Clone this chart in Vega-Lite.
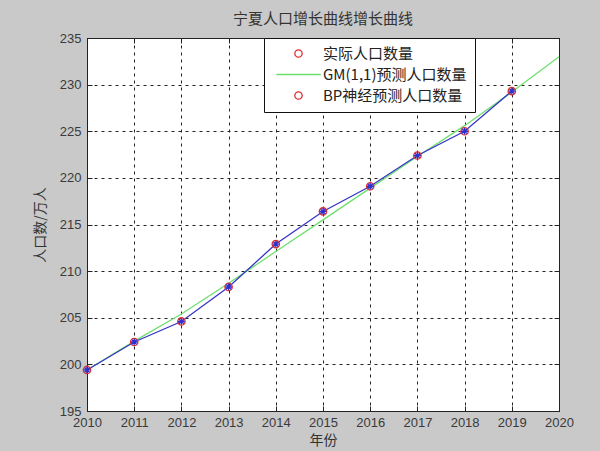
{
  "$schema": "https://vega.github.io/schema/vega-lite/v6.json",
  "width": 472,
  "height": 373,
  "autosize": "none",
  "padding": {"left": 87, "top": 38, "right": 41, "bottom": 40},
  "background": "#c9c9c9",
  "title": {"text": "宁夏人口增长曲线增长曲线", "font": "Noto Sans CJK SC", "fontSize": 15, "fontWeight": "normal", "color": "#333333", "anchor": "middle", "offset": 5},
  "config": {
    "view": {"fill": "white", "stroke": "#222222", "strokeWidth": 1},
    "axis": {
      "labelFont": "Liberation Sans", "labelFontSize": 13, "labelColor": "#3a3a3a", "labelFlush": false, "labelOverlap": false,
      "titleFont": "Noto Sans CJK SC", "titleFontSize": 14, "titleFontWeight": "normal", "titleColor": "#333333",
      "domainColor": "#222222", "tickColor": "#222222", "tickSize": -5,
      "gridColor": "#222222", "gridOpacity": 1, "gridDash": [3, 4], "gridWidth": 1
    }
  },
  "data": {
    "values": [
      {"year": 2010, "value": 199.4, "series": "实际人口数量"},
      {"year": 2011, "value": 202.4, "series": "实际人口数量"},
      {"year": 2012, "value": 204.6, "series": "实际人口数量"},
      {"year": 2013, "value": 208.3, "series": "实际人口数量"},
      {"year": 2014, "value": 212.9, "series": "实际人口数量"},
      {"year": 2015, "value": 216.4, "series": "实际人口数量"},
      {"year": 2016, "value": 219.1, "series": "实际人口数量"},
      {"year": 2017, "value": 222.4, "series": "实际人口数量"},
      {"year": 2018, "value": 225.0, "series": "实际人口数量"},
      {"year": 2019, "value": 229.3, "series": "实际人口数量"},
      {"year": 2010, "value": 199.4, "series": "GM(1,1)预测人口数量"},
      {"year": 2011, "value": 202.5, "series": "GM(1,1)预测人口数量"},
      {"year": 2012, "value": 205.4, "series": "GM(1,1)预测人口数量"},
      {"year": 2013, "value": 208.7, "series": "GM(1,1)预测人口数量"},
      {"year": 2014, "value": 212.1, "series": "GM(1,1)预测人口数量"},
      {"year": 2015, "value": 215.5, "series": "GM(1,1)预测人口数量"},
      {"year": 2016, "value": 218.9, "series": "GM(1,1)预测人口数量"},
      {"year": 2017, "value": 222.3, "series": "GM(1,1)预测人口数量"},
      {"year": 2018, "value": 225.6, "series": "GM(1,1)预测人口数量"},
      {"year": 2019, "value": 229.2, "series": "GM(1,1)预测人口数量"},
      {"year": 2020, "value": 233.0, "series": "GM(1,1)预测人口数量"},
      {"year": 2010, "value": 199.4, "series": "BP神经预测人口数量"},
      {"year": 2011, "value": 202.4, "series": "BP神经预测人口数量"},
      {"year": 2012, "value": 204.6, "series": "BP神经预测人口数量"},
      {"year": 2013, "value": 208.3, "series": "BP神经预测人口数量"},
      {"year": 2014, "value": 212.9, "series": "BP神经预测人口数量"},
      {"year": 2015, "value": 216.4, "series": "BP神经预测人口数量"},
      {"year": 2016, "value": 219.1, "series": "BP神经预测人口数量"},
      {"year": 2017, "value": 222.4, "series": "BP神经预测人口数量"},
      {"year": 2018, "value": 225.0, "series": "BP神经预测人口数量"},
      {"year": 2019, "value": 229.3, "series": "BP神经预测人口数量"}
    ]
  },
  "resolve": {"axis": {"x": "independent", "y": "independent"}},
  "layer": [
    {
      "transform": [{"filter": "datum.series === 'GM(1,1)预测人口数量'"}],
      "mark": {"type": "line", "color": "#6ee06e", "strokeWidth": 1.3},
      "encoding": {
        "x": {"field": "year", "type": "quantitative", "scale": {"domain": [2010, 2020], "nice": false},
          "axis": {"orient": "bottom", "title": "年份", "values": [2010, 2011, 2012, 2013, 2014, 2015, 2016, 2017, 2018, 2019, 2020], "format": "d", "grid": true, "labelPadding": 10, "titlePadding": 4}},
        "y": {"field": "value", "type": "quantitative", "scale": {"domain": [195, 235], "nice": false, "zero": false},
          "axis": {"orient": "left", "title": "人口数/万人", "values": [195, 200, 205, 210, 215, 220, 225, 230, 235], "grid": true, "labelPadding": 11, "titlePadding": 12}}
      }
    },
    {
      "transform": [{"filter": "datum.series === 'BP神经预测人口数量'"}],
      "mark": {"type": "line", "color": "#3535c8", "strokeWidth": 1.3},
      "encoding": {
        "x": {"field": "year", "type": "quantitative", "axis": null},
        "y": {"field": "value", "type": "quantitative", "axis": null}
      }
    },
    {
      "transform": [{"filter": "datum.series === '实际人口数量'"}],
      "mark": {"type": "point", "shape": "circle", "filled": false, "color": "#e03030", "size": 55, "strokeWidth": 1.3, "opacity": 1},
      "encoding": {
        "x": {"field": "year", "type": "quantitative", "axis": null},
        "y": {"field": "value", "type": "quantitative", "axis": null}
      }
    },
    {
      "transform": [{"filter": "datum.series === 'BP神经预测人口数量'"}],
      "mark": {"type": "point", "shape": "M-1,0L1,0M0,-1L0,1M-0.7,-0.7L0.7,0.7M-0.7,0.7L0.7,-0.7", "filled": false, "color": "#3030d0", "size": 45, "strokeWidth": 1.3, "opacity": 1},
      "encoding": {
        "x": {"field": "year", "type": "quantitative", "axis": null},
        "y": {"field": "value", "type": "quantitative", "axis": null}
      }
    },
    {
      "mark": {"type": "point", "filled": false, "opacity": 0, "strokeWidth": 1.3, "size": 55},
      "encoding": {
        "x": {"field": "year", "type": "quantitative",
          "axis": {"orient": "top", "title": null, "labels": false, "grid": false, "domain": false, "values": [2010, 2011, 2012, 2013, 2014, 2015, 2016, 2017, 2018, 2019, 2020]}},
        "y": {"field": "value", "type": "quantitative",
          "axis": {"orient": "right", "title": null, "labels": false, "grid": false, "domain": false, "values": [195, 200, 205, 210, 215, 220, 225, 230, 235]}},
        "color": {"field": "series", "type": "nominal",
          "scale": {"domain": ["实际人口数量", "GM(1,1)预测人口数量", "BP神经预测人口数量"], "range": ["#e03030", "#6ee06e", "#e03030"]},
          "legend": {"orient": "none", "legendX": 177, "legendY": 0, "title": null, "fillColor": "white", "strokeColor": "#111111", "padding": 8, "cornerRadius": 0,
            "labelFont": "Noto Sans CJK SC", "labelFontSize": 15, "labelColor": "#222222", "labelOffset": 17, "symbolOffset": 19, "symbolSize": 55, "rowPadding": 5, "symbolOpacity": 1, "symbolStrokeWidth": 1.3, "symbolFillColor": "transparent"}},
        "shape": {"field": "series", "type": "nominal",
          "scale": {"domain": ["实际人口数量", "GM(1,1)预测人口数量", "BP神经预测人口数量"], "range": ["circle", "M-6,0H6", "circle"]}}
      }
    }
  ]
}
